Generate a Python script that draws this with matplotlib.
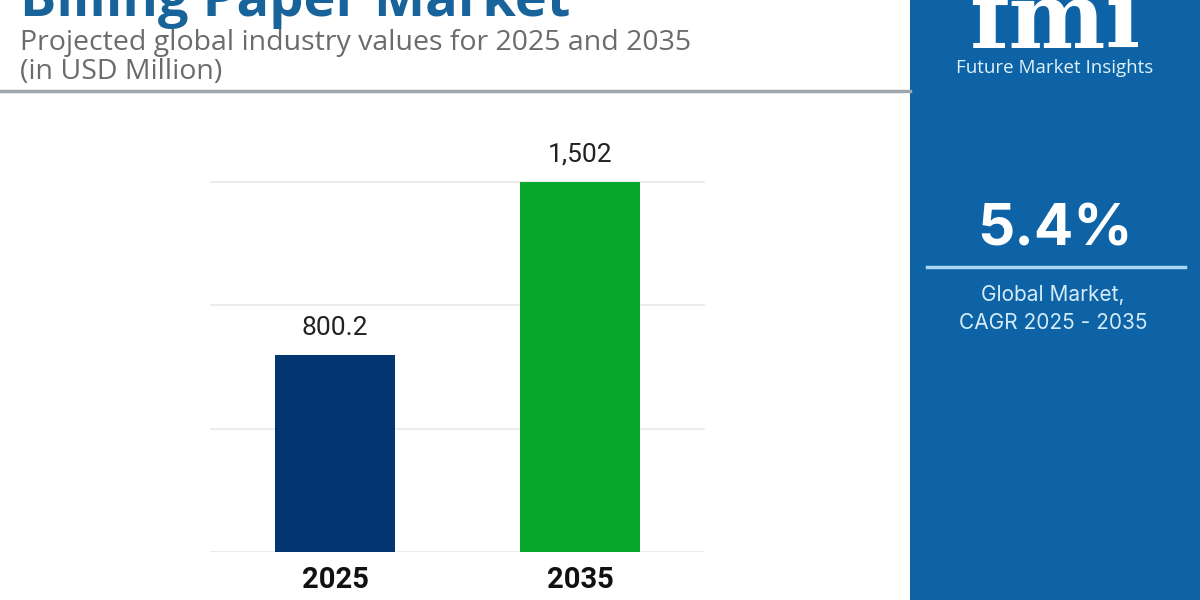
import matplotlib
matplotlib.use('Agg')
import matplotlib.pyplot as plt
from matplotlib.patches import Rectangle
from matplotlib.lines import Line2D

# chart data
years = ['2025', '2035']
values = [800.2, 1502]
value_labels = ['800.2', '1,502']
bar_colors = ['#033570', '#08a82d']
grid_values = [0, 500, 1000, 1500]

title = 'Billing Paper Market'
subtitle = 'Projected global industry values for 2025 and 2035'
unit = '(in USD Million)'
cagr = '5.4%'
cagr_label = ['Global Market,', 'CAGR 2025 - 2035']

W, H = 1200, 600
fig = plt.figure(figsize=(12, 6), dpi=100)
fig.patch.set_facecolor('white')


def fy(py):
    # pixel y from top -> figure fraction
    return 1 - py / H


def fx(px):
    return px / W


# right panel
panel_color = '#0d63a5'
fig.patches.append(Rectangle((fx(910), 0), fx(290), 1, transform=fig.transFigure,
                             facecolor=panel_color, edgecolor='none', zorder=0))

# header
fig.text(fx(20), fy(16), title, fontsize=39, fontweight='bold', color='#17639a',
         family='Open Sans', va='baseline', ha='left')
fig.text(fx(20), fy(43), subtitle, fontsize=20.5, color='#6b6b6b',
         family='Open Sans', va='center', ha='left')
fig.text(fx(20), fy(72), unit, fontsize=20.5, color='#6b6b6b',
         family='Open Sans', va='center', ha='left')
fig.lines.append(Line2D([0, fx(910)], [fy(91), fy(91)], transform=fig.transFigure,
                        color='#9ea7ad', lw=2.5))

# logo
fig.text(fx(1055), fy(48), 'fmi', fontsize=66, fontweight='bold', color='white',
         family='DejaVu Serif', ha='center', va='baseline')
for k in range(8):
    yy = fy(4 + k * 6)
    fig.lines.append(Line2D([fx(950), fx(1160)], [yy, yy], transform=fig.transFigure,
                            color=panel_color, lw=0.9, alpha=0.55))
fig.text(fx(1055), fy(68), 'Future Market Insights', fontsize=13.5, color='#dff2fb',
         family='Open Sans', ha='center', va='center')

# cagr block
fig.text(fx(1055), fy(230), cagr, fontsize=42, fontweight='bold', color='white',
         family='Inter', ha='center', va='center')
fig.lines.append(Line2D([fx(927), fx(1185)], [fy(267), fy(267)], transform=fig.transFigure,
                        color='#a8d8f2', lw=2.5))
fig.text(fx(1053), fy(295), cagr_label[0], fontsize=15, color='#d3ecf8',
         family='Inter', ha='center', va='center')
fig.text(fx(1053), fy(323), cagr_label[1], fontsize=15, color='#d3ecf8',
         family='Inter', ha='center', va='center')

# bar chart
top_px, base_px, grid_top_px = 130, 552, 182
ax = fig.add_axes([fx(210), fy(base_px), fx(495), (base_px - top_px) / H])
ymax = grid_values[-1] * (base_px - top_px) / (base_px - grid_top_px)
x = range(len(years))
ax.bar(x, values, width=0.49, color=bar_colors, zorder=3)
ax.set_xlim(-0.51, 1.51)
ax.set_ylim(0, ymax)
ax.set_yticks(grid_values)
ax.yaxis.grid(True, color='#e9e9e9', lw=1.2, zorder=0)
ax.set_yticklabels([])
ax.tick_params(axis='y', length=0)
ax.set_xticks(list(x))
ax.set_xticklabels(years, fontsize=21, fontweight='bold', color='#111111', family='Roboto')
ax.tick_params(axis='x', length=0, pad=10)
for s in ax.spines.values():
    s.set_visible(False)
ax.set_facecolor('none')

for xi, v, lab in zip(x, values, value_labels):
    ax.annotate(lab, (xi, v), xytext=(0, 27), textcoords='offset pixels',
                ha='center', va='center', fontsize=19, color='#222222', family='Roboto')

fig.savefig('out.png', dpi=100)
